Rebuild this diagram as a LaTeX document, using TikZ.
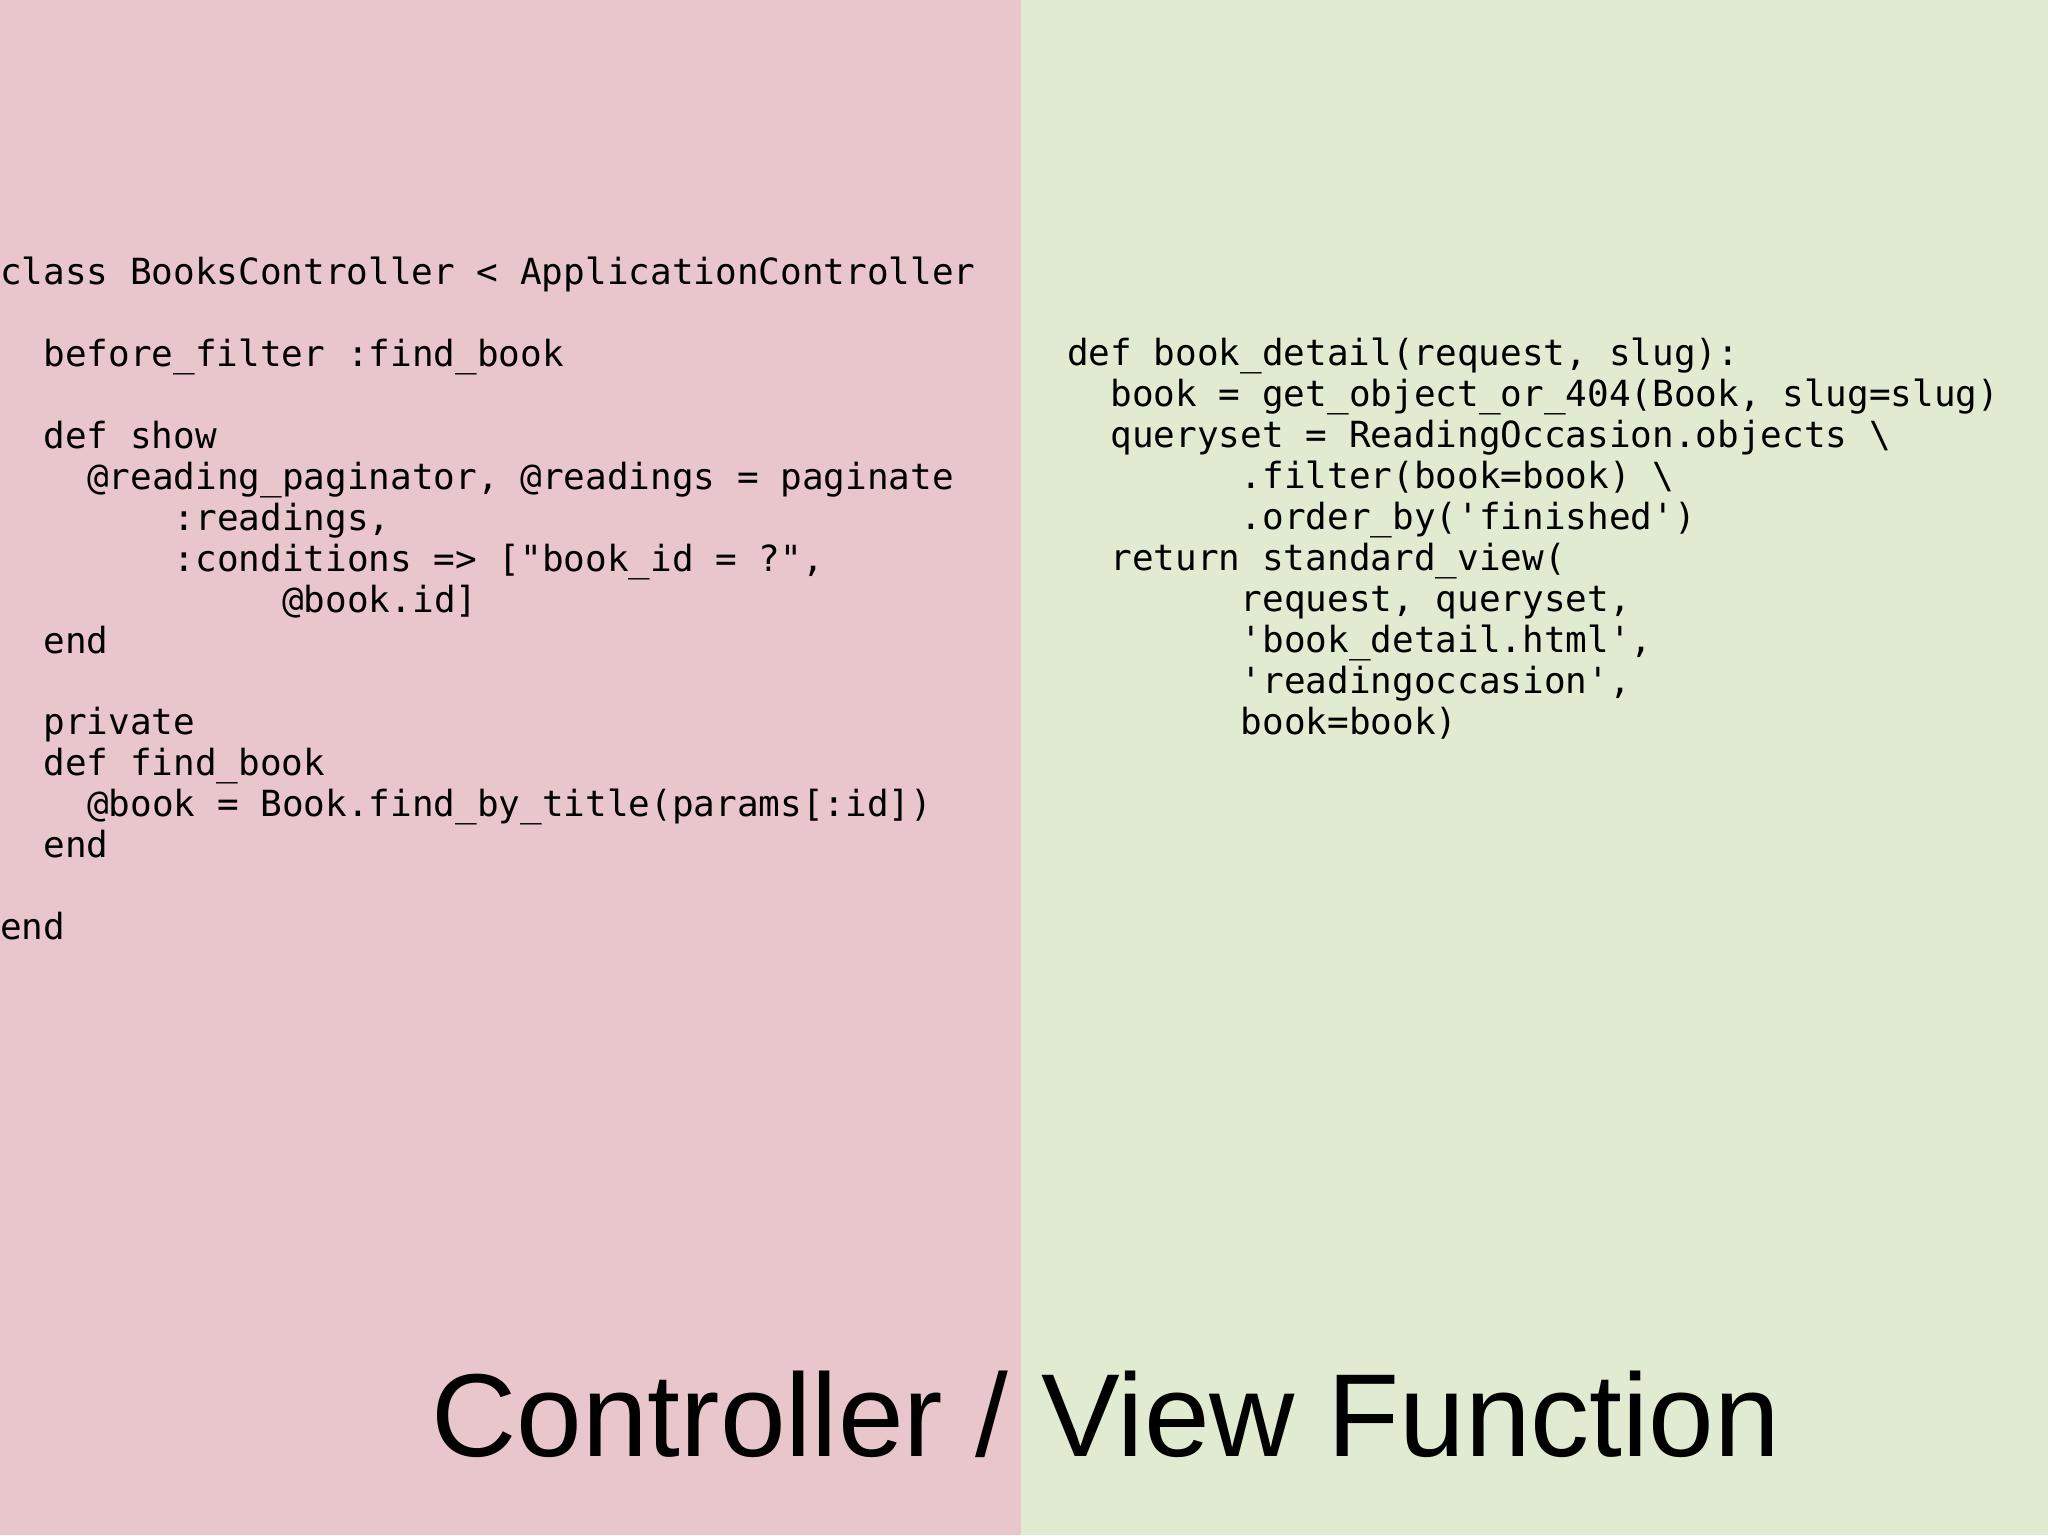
\documentclass[tikz,border=0pt]{standalone}
\usepackage{fontspec}
\setmainfont{Liberation Sans}
\setmonofont{DejaVu Sans Mono}
\definecolor{pinkbg}{HTML}{E9C6CB}
\definecolor{greenbg}{HTML}{E1EBD1}
\tikzset{codeline/.style={anchor=base west,inner sep=0pt,font=\ttfamily\fontsize{36}{41}\selectfont}}
\newcommand{\cl}[4]{\node[codeline] (#1) at (#2*21.7+#3,1535-#4) {#1x};}
\begin{document}
\begin{tikzpicture}[x=1pt,y=1pt]
\fill[pinkbg] (0,0) rectangle (1021,1535);
\fill[greenbg] (1021,0) rectangle (2048,1535);
\useasboundingbox (0,0) rectangle (2048,1535);
\def\lx#1#2#3#4{\node[codeline] (#1) at ({#2*21.7},{1535-285-#3*40.9}) {#4};}
\def\rx#1#2#3#4{\node[codeline] (#1) at ({1067+#2*21.7},{1535-366-#3*40.9}) {#4};}
\lx{l0}{0}{0}{class BooksController < ApplicationController}
\lx{l2}{2}{2}{before\_filter :find\_book}
\lx{l4}{2}{4}{def show}
\lx{l5}{4}{5}{@reading\_paginator, @readings = paginate}
\lx{l6}{8}{6}{:readings,}
\lx{l7}{8}{7}{:conditions => ["book\_id = ?",}
\lx{l8}{13}{8}{@book.id]}
\lx{l9}{2}{9}{end}
\lx{l11}{2}{11}{private}
\lx{l12}{2}{12}{def find\_book}
\lx{l13}{4}{13}{@book = Book.find\_by\_title(params[:id])}
\lx{l14}{2}{14}{end}
\lx{l16}{0}{16}{end}
\rx{r0}{0}{0}{def book\_detail(request, slug):}
\rx{r1}{2}{1}{book = get\_object\_or\_404(Book, slug=slug)}
\rx{r2}{2}{2}{queryset = ReadingOccasion.objects \textbackslash}
\rx{r3}{8}{3}{.filter(book=book) \textbackslash}
\rx{r4}{8}{4}{.order\_by('finished')}
\rx{r5}{2}{5}{return standard\_view(}
\rx{r6}{8}{6}{request, queryset,}
\rx{r7}{8}{7}{'book\_detail.html',}
\rx{r8}{8}{8}{'readingoccasion',}
\rx{r9}{8}{9}{book=book)}
\node[anchor=base,inner sep=0pt,font=\fontsize{118}{130}\selectfont] (title) at (1106,79) {Controller / View Function};
\end{tikzpicture}
\end{document}
